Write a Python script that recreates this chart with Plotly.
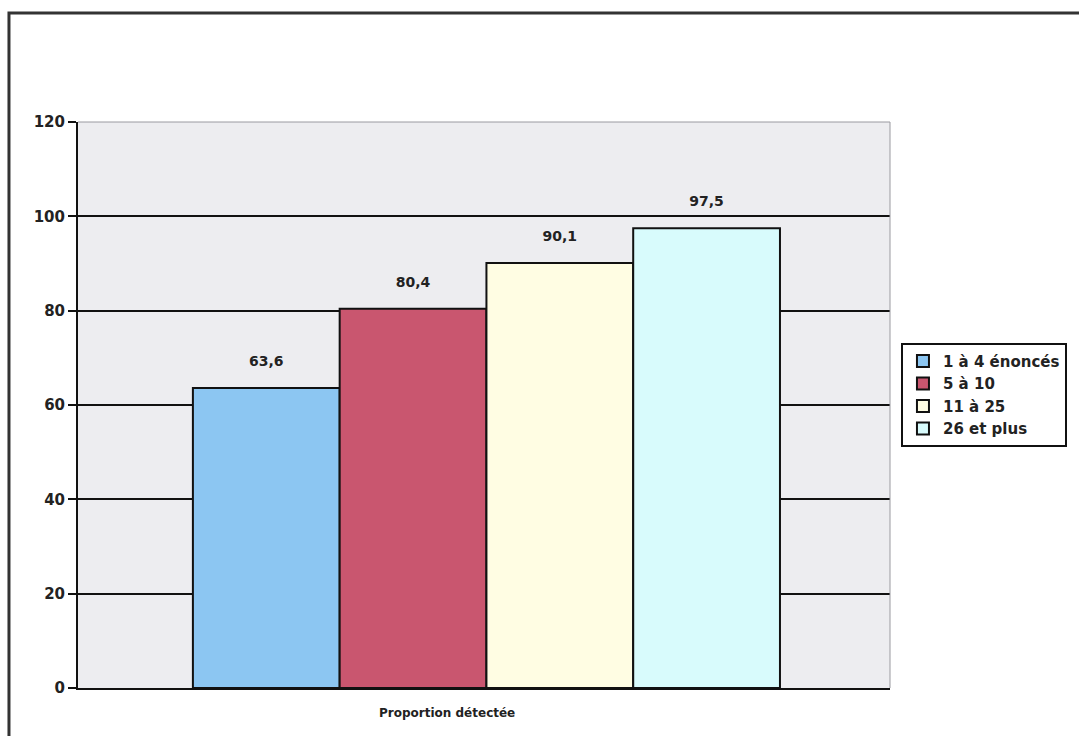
import plotly.graph_objects as go

category = ["Proportion détectée"]
series_names = ["1 à 4 énoncés", "5 à 10", "11 à 25", "26 et plus"]
values = [63.6, 80.4, 90.1, 97.5]
colors = ["#8CC6F2", "#C9566F", "#FFFDE3", "#D8FBFC"]
y_ticks = [0, 20, 40, 60, 80, 100, 120]

fnt = dict(family="DejaVu Sans", size=14, color="#222222", weight="bold")

fig = go.Figure()
for name, v, c in zip(series_names, values, colors):
    fig.add_trace(go.Bar(
        x=category, y=[v], name=name,
        marker=dict(color=c, line=dict(color="#111111", width=2)),
        texttemplate="%{y:.1f}<br><span style='font-size:4px'> </span>",
        textposition="outside",
        textfont=fnt, cliponaxis=False,
    ))

fig.update_layout(
    width=1079, height=736,
    margin=dict(l=78, r=189, t=122, b=48),
    paper_bgcolor="#FFFFFF",
    plot_bgcolor="#EDEDF0",
    barmode="group", bargap=0.277, bargroupgap=0,
    separators=",.",
    font=fnt,
    showlegend=True,
    legend=dict(
        x=1.0135, xanchor="left", y=0.61, yanchor="top",
        bordercolor="#111111", borderwidth=2, bgcolor="#FFFFFF",
        font=dict(family="DejaVu Sans", size=15, color="#222222", weight="bold"),
        tracegroupgap=0, itemwidth=30,
    ),
    xaxis=dict(
        showticklabels=False, showgrid=False, showline=True,
        linecolor="#111111", linewidth=2, ticks="",
        range=[-0.503, 0.497],
    ),
    yaxis=dict(
        range=[0, 120], tickvals=y_ticks, showgrid=True,
        gridcolor="#111111", gridwidth=2, showline=True,
        linecolor="#111111", linewidth=2, ticks="outside",
        ticklen=8, tickcolor="#111111", tickwidth=2,
        tickfont=dict(family="DejaVu Sans", size=15, color="#222222", weight="bold"),
        zeroline=False,
    ),
    annotations=[dict(
        text="Proportion détectée", xref="paper", yref="paper",
        x=0.454, y=-0.045, yanchor="middle", showarrow=False,
        font=dict(family="DejaVu Sans", size=12, color="#222222", weight="bold"),
    )],
    shapes=[
        dict(type="rect", xref="paper", yref="paper", x0=-0.085, x1=1.4,
             y0=-0.3, y1=1.1926, line=dict(color="#333333", width=3),
             fillcolor="rgba(0,0,0,0)", layer="below"),
        dict(type="line", xref="paper", yref="paper", x0=0, x1=1, y0=1, y1=1,
             line=dict(color="#9A9AA0", width=1)),
        dict(type="line", xref="paper", yref="paper", x0=1, x1=1, y0=0, y1=1,
             line=dict(color="#9A9AA0", width=1)),
    ],
)

fig.write_html("out.html")
